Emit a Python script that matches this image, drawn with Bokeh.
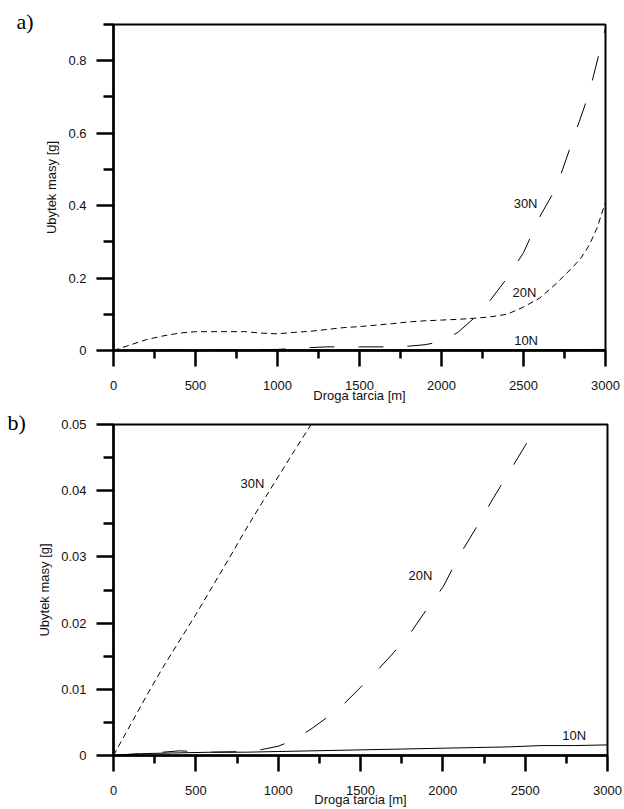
from bokeh.plotting import figure
from bokeh.layouts import column
from bokeh.models import FixedTicker, Label
from bokeh.embed import file_html
from bokeh.resources import INLINE

# ---------------- data: chart a) ----------------
x_ticks = [0, 500, 1000, 1500, 2000, 2500, 3000]
x_minor = [250, 750, 1250, 1750, 2250, 2750]

a_y_ticks = [0, 0.2, 0.4, 0.6, 0.8]
a_y_tick_labels = ["0", "0.2", "0.4", "0.6", "0.8"]
a_y_minor = [0.1, 0.3, 0.5, 0.7, 0.9]

a_x_10 = [0, 500, 1000, 1500, 2000, 2500, 3000]
a_y_10 = [0, 0.001, 0.0012, 0.0015, 0.002, 0.0022, 0.003]

a_x_20 = [0, 100, 200, 300, 400, 500, 600, 800, 900, 1000, 1100, 1200, 1300, 1400,
          1500, 1600, 1700, 1800, 1900, 2000, 2100, 2200, 2300, 2400, 2500, 2600,
          2700, 2800, 2850, 2900, 2950, 3000]
a_y_20 = [0, 0.015, 0.03, 0.04, 0.048, 0.052, 0.052, 0.052, 0.048, 0.046, 0.05, 0.053,
          0.058, 0.063, 0.066, 0.07, 0.074, 0.079, 0.082, 0.084, 0.086, 0.089, 0.093,
          0.1, 0.12, 0.145, 0.185, 0.23, 0.255, 0.29, 0.34, 0.41]

a_x_30 = [0, 250, 500, 750, 1000, 1200, 1300, 1500, 1700, 1800, 1900, 2000, 2100,
          2200, 2300, 2400, 2500, 2600, 2700, 2800, 2900, 3000]
a_y_30 = [0, 0.001, 0.002, 0.002, 0.003, 0.008, 0.01, 0.01, 0.01, 0.012, 0.016, 0.025,
          0.05, 0.09, 0.14, 0.2, 0.27, 0.37, 0.45, 0.58, 0.71, 0.89]

# ---------------- data: chart b) ----------------
b_y_ticks = [0, 0.01, 0.02, 0.03, 0.04, 0.05]
b_y_tick_labels = ["0", "0.01", "0.02", "0.03", "0.04", "0.05"]
b_y_minor = [0.005, 0.015, 0.025, 0.035, 0.045]

b_x_10 = [0, 100, 200, 400, 600, 800, 1000, 1200, 1400, 1600, 1800, 2000, 2200, 2400,
          2600, 2800, 3000]
b_y_10 = [0, 0.0002, 0.0003, 0.0004, 0.0005, 0.0005, 0.0006, 0.0007, 0.0008, 0.0009,
          0.001, 0.0011, 0.0012, 0.0013, 0.0015, 0.0015, 0.0016]

b_x_20 = [0, 200, 400, 600, 800, 900, 1000, 1100, 1200, 1300, 1400, 1500, 1600, 1700,
          1800, 1900, 2000, 2100, 2200, 2300, 2400, 2500, 2600]
b_y_20 = [0, 0.0003, 0.0007, 0.0005, 0.0006, 0.0009, 0.0014, 0.0024, 0.004, 0.0058,
          0.0078, 0.0103, 0.0128, 0.0155, 0.0184, 0.022, 0.0254, 0.0302, 0.0343,
          0.0386, 0.0427, 0.0468, 0.051]

b_x_30 = [0, 100, 200, 300, 400, 500, 600, 700, 800, 900, 1000, 1100, 1200]
b_y_30 = [0, 0.0045, 0.009, 0.0133, 0.0173, 0.0213, 0.0255, 0.0297, 0.034, 0.0381,
          0.0421, 0.0461, 0.05]

series_names = ["10N", "20N", "30N"]
panel_names = ["a)", "b)"]

FONT = "Liberation Sans"
SERIF = "Liberation Serif"
SHORT = "6 4"
LONG = "25 24"


def style(p, y_ticks, y_labels, y_minor, title_standoff, t_offset, t_standoff):
    p.grid.visible = False
    p.outline_line_color = "black"
    p.outline_line_width = 2
    p.background_fill_color = "white"
    p.border_fill_color = "white"
    p.title.align = "left"
    p.title.offset = t_offset
    p.title.standoff = t_standoff
    p.title.text_font = SERIF
    p.title.text_font_size = "22px"
    p.title.text_font_style = "normal"
    p.title.text_color = "black"
    xa = p.xaxis[0]
    xa.ticker = FixedTicker(ticks=x_ticks, minor_ticks=x_minor)
    xa.major_tick_out = 16
    xa.major_tick_in = 0
    xa.minor_tick_out = 8
    xa.minor_tick_in = 0
    xa.major_label_standoff = 14
    xa.axis_label = "Droga tarcia [m]"
    xa.axis_label_standoff = title_standoff
    ya = p.yaxis[0]
    ya.ticker = FixedTicker(ticks=y_ticks, minor_ticks=y_minor)
    ya.major_label_overrides = {t: s for t, s in zip(y_ticks, y_labels)}
    ya.major_tick_out = 17
    ya.major_tick_in = 0
    ya.minor_tick_out = 10
    ya.minor_tick_in = 0
    ya.major_label_standoff = 10
    ya.axis_label = "Ubytek masy [g]"
    ya.axis_label_standoff = 6
    for ax in (xa, ya):
        ax.axis_line_width = 2.5
        ax.major_tick_line_width = 2.5
        ax.minor_tick_line_width = 2.5
        ax.axis_line_color = "black"
        ax.major_tick_line_color = "black"
        ax.minor_tick_line_color = "black"
        ax.major_label_text_font = FONT
        ax.major_label_text_font_size = "13px"
        ax.major_label_text_color = "#111111"
        ax.axis_label_text_font = FONT
        ax.axis_label_text_font_size = "13px"
        ax.axis_label_text_font_style = "normal"
        ax.axis_label_text_color = "#111111"


def add_label(p, x, y, text):
    p.add_layout(Label(x=x, y=y, text=text, text_font=FONT, text_font_size="13px",
                       text_baseline="middle", text_align="left", text_color="#111111"))


# ---------------- figure a) ----------------
pa = figure(frame_width=492, frame_height=326, x_range=(0, 3000), y_range=(0, 0.9),
            min_border_left=110, min_border_right=22, min_border_top=24,
            min_border_bottom=56, output_backend="svg", toolbar_location=None,
            title=panel_names[0])
style(pa, a_y_ticks, a_y_tick_labels, a_y_minor, -5, -97, -18)
pa.line(a_x_10, a_y_10, line_color="black", line_width=1)
pa.line(a_x_20, a_y_20, line_color="black", line_width=1, line_dash=SHORT)
pa.line(a_x_30, a_y_30, line_color="black", line_width=1, line_dash=LONG)
add_label(pa, 2440, 0.407, series_names[2])
add_label(pa, 2433, 0.159, series_names[1])
add_label(pa, 2443, 0.028, series_names[0])

# ---------------- figure b) ----------------
pb = figure(frame_width=494, frame_height=331, x_range=(0, 3000), y_range=(0, 0.05),
            min_border_left=113, min_border_right=17, min_border_top=18,
            min_border_bottom=54, output_backend="svg", toolbar_location=None,
            title=panel_names[1])
style(pb, b_y_ticks, b_y_tick_labels, b_y_minor, -6, -106, -20)
pb.line(b_x_10, b_y_10, line_color="black", line_width=1)
pb.line(b_x_20, b_y_20, line_color="black", line_width=1, line_dash=LONG)
pb.line(b_x_30, b_y_30, line_color="black", line_width=1, line_dash=SHORT)
add_label(pb, 771, 0.0411, series_names[2])
add_label(pb, 1792, 0.0272, series_names[1])
add_label(pb, 2725, 0.003, series_names[0])

layout = column(pa, pb, spacing=0)
open("out.html", "w").write(file_html(layout, INLINE))
